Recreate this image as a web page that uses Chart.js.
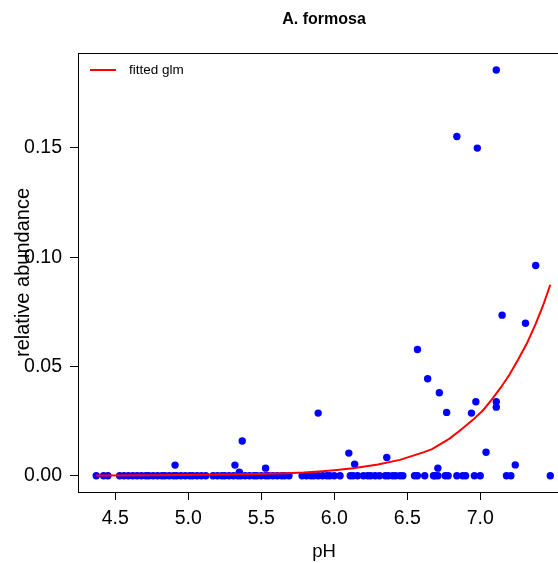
<!DOCTYPE html>
<html>
<head>
<meta charset="utf-8">
<script src="https://cdn.jsdelivr.net/npm/chart.js@4/dist/chart.umd.min.js"></script>
<style>
  html, body { margin: 0; padding: 0; background: #fff; overflow: hidden; }
  #wrap { width: 558px; height: 563px; overflow: hidden; position: relative; }
  #chart { position: absolute; left: 0; top: 0; }
</style>
</head>
<body>
<div id="wrap"><canvas id="chart" width="580" height="563"></canvas></div>
<script>
// samples where A. formosa was found (pH, relative abundance)
const presentPh = [7.11, 6.84, 6.98, 7.38, 7.15, 7.31, 6.57, 6.64, 6.72, 6.97, 7.11, 7.11, 6.77,
    6.94, 5.89, 6.10, 7.04, 6.14, 6.36, 7.24, 6.71, 4.91, 5.37, 5.32, 5.53, 5.35];
const presentAbund = [0.1856, 0.1552, 0.1499, 0.0962, 0.0735, 0.0698, 0.0578, 0.0444, 0.0380, 0.0339,
    0.0339, 0.0314, 0.0290, 0.0287, 0.0287, 0.0104, 0.0108, 0.0053, 0.0084, 0.0050, 0.0035, 0.0049,
    0.0159, 0.0049, 0.0035, 0.0017];

// samples with zero abundance (pH only)
const absentPh = [4.37, 4.42, 4.45, 4.53, 4.56, 4.59, 4.62, 4.65, 4.68, 4.71, 4.73, 4.76, 4.79, 4.82,
    4.84, 4.87, 4.90, 4.92, 4.95, 4.98, 5.01, 5.03, 5.06, 5.09, 5.12, 5.17, 5.20, 5.23, 5.25, 5.28,
    5.31, 5.34, 5.36, 5.39, 5.42, 5.45, 5.47, 5.50, 5.53, 5.55, 5.58, 5.61, 5.64, 5.66, 5.69, 5.78,
    5.81, 5.84, 5.86, 5.89, 5.92, 5.95, 5.97, 6.00, 6.04, 6.11, 6.13, 6.16, 6.20, 6.23, 6.25, 6.28,
    6.31, 6.35, 6.37, 6.40, 6.42, 6.45, 6.47, 6.55, 6.57, 6.62, 6.68, 6.69, 6.71, 6.76, 6.78, 6.84,
    6.88, 6.90, 6.96, 7.00, 7.18, 7.21, 7.48];

// fitted glm curve
const fitPh = [4.37, 4.75, 5.10, 5.47, 5.68, 5.79, 5.90, 6.00, 6.13, 6.30, 6.45, 6.61, 6.67, 6.79,
    6.87, 6.95, 7.02, 7.08, 7.14, 7.20, 7.26, 7.32, 7.38, 7.43, 7.48];
const fitAbund = [0.0002, 0.0003, 0.0005, 0.0008, 0.0012, 0.0015, 0.0020, 0.0026, 0.0035, 0.0052,
    0.0073, 0.0107, 0.0122, 0.0170, 0.0212, 0.0256, 0.0300, 0.0350, 0.0403, 0.0462, 0.0532, 0.0606,
    0.0695, 0.0778, 0.0874];

const xTicks = [4.5, 5.0, 5.5, 6.0, 6.5, 7.0];
const yTicks = [0.00, 0.05, 0.10, 0.15];

const FONT = "'Liberation Sans', Arial, Helvetica, sans-serif";

const points = presentPh.map((p, i) => ({ x: p, y: presentAbund[i] }))
    .concat(absentPh.map(p => ({ x: p, y: 0 })));
const curve = fitPh.map((p, i) => ({ x: p, y: fitAbund[i] }));

// box top edge, title and legend in R base-graphics style
const rDecor = {
    id: 'rDecor',
    afterDraw(chart) {
        const { ctx, chartArea: a } = chart;
        ctx.save();
        ctx.strokeStyle = '#000';
        ctx.lineWidth = 1;
        ctx.beginPath();
        ctx.moveTo(Math.round(a.left), Math.round(a.top) + 0.5);
        ctx.lineTo(Math.round(a.right), Math.round(a.top) + 0.5);
        ctx.stroke();

        ctx.fillStyle = '#000';
        ctx.font = 'bold 16px ' + FONT;
        ctx.textAlign = 'center';
        ctx.textBaseline = 'middle';
        ctx.fillText('A. formosa', (a.left + a.right) / 2, 20);

        ctx.strokeStyle = '#ff0000';
        ctx.lineWidth = 2;
        ctx.beginPath();
        ctx.moveTo(a.left + 12, a.top + 17);
        ctx.lineTo(a.left + 38, a.top + 17);
        ctx.stroke();
        ctx.font = '13.5px ' + FONT;
        ctx.textAlign = 'left';
        ctx.fillText('fitted glm', a.left + 51, a.top + 17);
        ctx.restore();
    }
};

new Chart(document.getElementById('chart'), {
    type: 'scatter',
    data: {
        datasets: [{
            label: 'fitted glm',
            data: curve,
            showLine: true,
            borderColor: '#ff0000',
            borderWidth: 2,
            pointRadius: 0,
            tension: 0
        }, {
            label: 'samples',
            data: points,
            backgroundColor: '#0000ff',
            borderWidth: 0,
            pointRadius: 3.7
        }]
    },
    options: {
        responsive: false,
        animation: false,
        devicePixelRatio: 1,
        layout: { padding: { top: 53, right: 10, left: 0, bottom: 0 } },
        plugins: {
            legend: { display: false },
            title: { display: false },
            tooltip: { enabled: false }
        },
        scales: {
            x: {
                type: 'linear',
                min: 4.245,
                max: 7.615,
                afterBuildTicks: s => { s.ticks = xTicks.map(v => ({ value: v })); },
                afterFit: s => { s.height = 71; },
                ticks: {
                    font: { family: FONT, size: 19.5 },
                    color: '#000',
                    padding: 7,
                    maxRotation: 0,
                    callback: v => Number(v).toFixed(1)
                },
                grid: { drawOnChartArea: false, tickLength: 8, color: '#000' },
                border: { color: '#000' },
                title: {
                    display: true,
                    text: 'pH',
                    font: { family: FONT, size: 18.5 },
                    color: '#000',
                    padding: { top: 0, bottom: 0 }
                }
            },
            y: {
                type: 'linear',
                min: -0.0074,
                max: 0.1934,
                afterBuildTicks: s => { s.ticks = yTicks.map(v => ({ value: v })); },
                afterFit: s => { s.width = 78; },
                ticks: {
                    font: { family: FONT, size: 19.5 },
                    color: '#000',
                    padding: 8,
                    callback: v => Number(v).toFixed(2)
                },
                grid: { drawOnChartArea: false, tickLength: 8, color: '#000' },
                border: { color: '#000' },
                title: {
                    display: true,
                    text: 'relative abundance',
                    font: { family: FONT, size: 20 },
                    color: '#000',
                    padding: { top: 11, bottom: 0 }
                }
            }
        }
    },
    plugins: [rDecor]
});
</script>
</body>
</html>
